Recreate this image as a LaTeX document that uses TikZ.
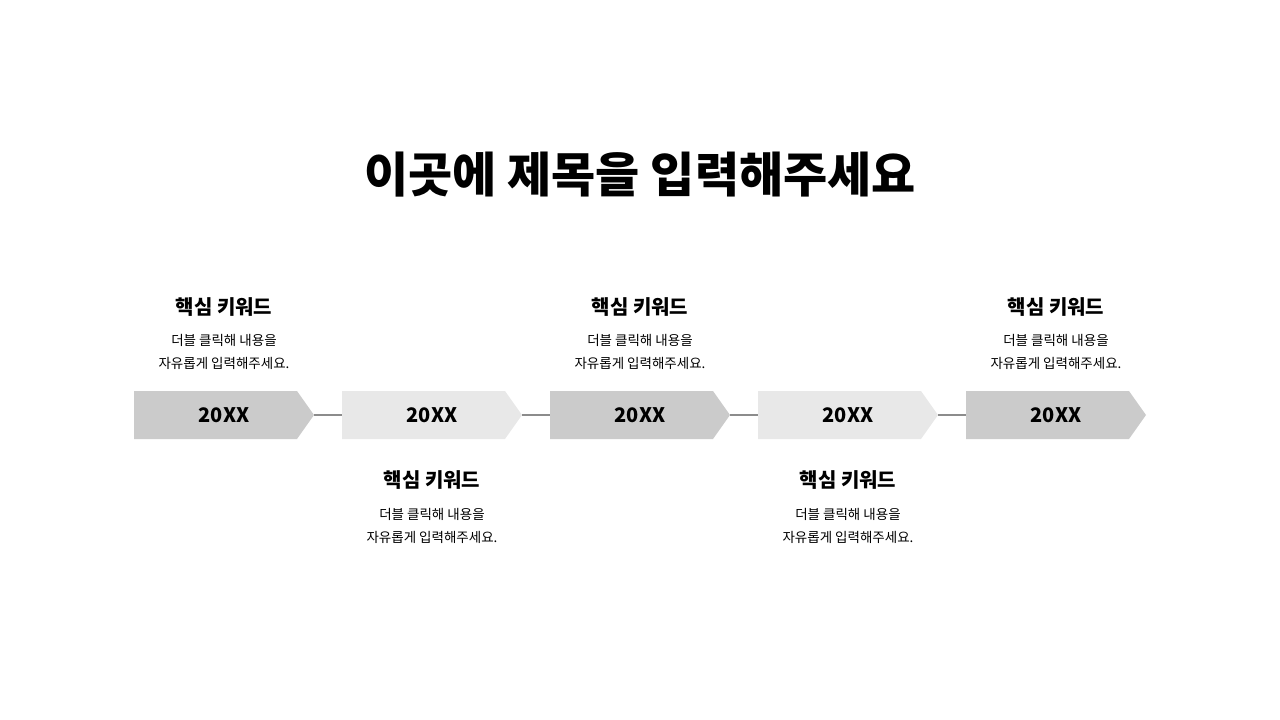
\documentclass[tikz,border=0pt]{standalone}
\usepackage{fontspec}
\setmainfont{Noto Sans CJK KR}
\begin{document}
\begin{tikzpicture}[x=1pt,y=-1pt,
  title/.style={font=\fontsize{48}{56}\selectfont\bfseries},
  kw/.style={font=\fontsize{20}{24}\selectfont\bfseries},
  desc/.style={font=\fontsize{13.5}{23}\selectfont, align=center},
  yr/.style={font=\fontsize{20}{24}\selectfont\bfseries},
  conn/.style={draw=gray!90, line width=1.3pt}]
\useasboundingbox (0,0) rectangle (1280,720);
\node[title] (t) at (640,175) {이곳에 제목을 입력해주세요};
\foreach \i/\c in {0/CBCBCB,1/E8E8E8,2/CBCBCB,3/E8E8E8,4/CBCBCB}{
  \pgfmathsetmacro{\x}{134+208*\i}
  \definecolor{fc}{HTML}{\c}
  \fill[fc] (\x,391) -- (\x+163,391) -- (\x+180,415) -- (\x+163,439) -- (\x,439) -- cycle;
  \node[yr] (y\i) at (\x+90,415) {20XX};
  \coordinate (s\i) at (\x+180,415);
  \coordinate (e\i) at (\x,415);
}
\foreach \a/\b in {0/1,1/2,2/3,3/4} \draw[conn] (s\a) -- (e\b);
\foreach \i in {0,2,4}{
  \pgfmathsetmacro{\x}{224+208*\i}
  \node[kw] (k\i) at (\x,307) {핵심 키워드};
  \node[desc] (d\i) at (\x,352) {더블 클릭해 내용을\\자유롭게 입력해주세요.};
}
\foreach \i in {1,3}{
  \pgfmathsetmacro{\x}{224+208*\i}
  \node[kw] (k\i) at (\x,480) {핵심 키워드};
  \node[desc] (d\i) at (\x,526) {더블 클릭해 내용을\\자유롭게 입력해주세요.};
}
\end{tikzpicture}
\end{document}
